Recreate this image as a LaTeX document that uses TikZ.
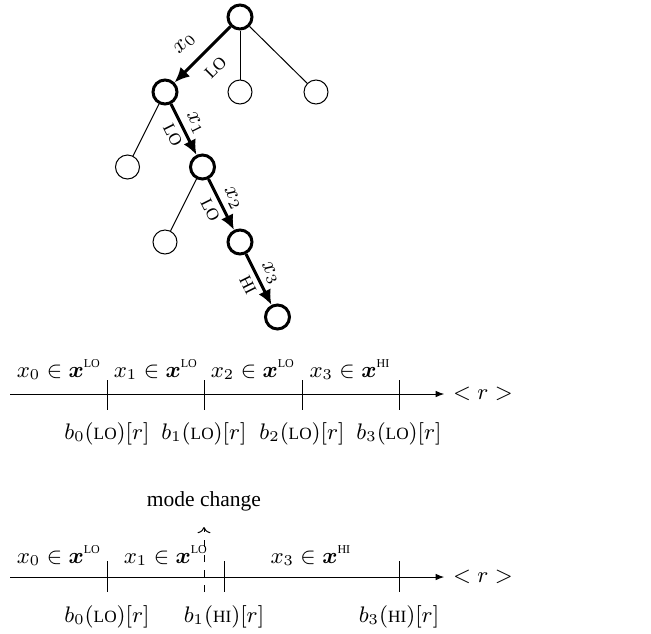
\documentclass[tikz,border=0pt]{standalone}
\usepackage[no-math]{fontspec}
\setmainfont{Liberation Serif}
\usepackage{amsmath,graphicx}
\usetikzlibrary{arrows.meta,positioning}
\newcommand{\lo}{\text{\scalebox{.8}{LO}}}
\newcommand{\hi}{\text{\scalebox{.8}{HI}}}
\newcommand{\bx}{\boldsymbol{x}}

\begin{document}
\begin{tikzpicture}[x=.4pt,y=.4pt,font=\fontsize{8.6}{10}\selectfont,node distance=30pt and 30pt,on grid,vtx/.style={circle,draw,thin,minimum size=9.6pt,inner sep=0pt},onpath/.style={vtx,very thick},hop/.style={-{Latex[length=6pt,width=5.4pt]},line width=1.2pt},lab/.style={sloped,inner sep=2pt},axis/.style={-{Latex[length=3.4pt,width=2.6pt]}},lbl/.style={anchor=base}]
 \useasboundingbox (0,0) rectangle (651,-633);
 % search tree
 \node[onpath] (root) at (240,-17) {};
 \node[onpath,below left=of root] (a) {};
 \node[vtx,below=of root] (b) {};
 \node[vtx,below right=30pt and 30.4pt of root] (c) {};
 \node[vtx,below left=30pt and 15pt of a] (d) {};
 \node[onpath,below right=30pt and 15pt of a] (e) {};
 \node[vtx,below left=30pt and 15pt of e] (f) {};
 \node[onpath,below right=30pt and 15pt of e] (g) {};
 \node[onpath,below right=30pt and 15pt of g] (h) {};
 \draw (root)--(b); \draw (root)--(c); \draw (a)--(d); \draw (e)--(f);
 \draw[hop] (root)--node[lab,above=3pt,pos=.56]{$x_0$} node[lab,below=2.5pt]{\lo} (a);
 \draw[hop] (a)--node[lab,above]{$x_1$} node[lab,below]{\lo} (e);
 \draw[hop] (e)--node[lab,above]{$x_2$} node[lab,below]{\lo} (g);
 \draw[hop] (g)--node[lab,above]{$x_3$} node[lab,below]{\hi} (h);
 % first timeline
 \coordinate (s1) at (10,-394); \node (r1) at (483,-394) {$<r>$};
 \draw[axis] (s1)--(r1);
 \draw (107,-380)--(107,-410); \draw (204,-380)--(204,-410); \draw (302,-380)--(302,-410); \draw (399,-380)--(399,-410);
 \node[lbl] (u0) at (59,-377) {$x_0\in\bx^{\lo}$}; \node[lbl] (u1) at (156,-377) {$x_1\in\bx^{\lo}$};
 \node[lbl] (u2) at (253,-377) {$x_2\in\bx^{\lo}$}; \node[lbl] (u3) at (350,-377) {$x_3\in\bx^{\hi}$};
 \node[lbl] (v0) at (107,-439) {$b_0(\lo)[r]$}; \node[lbl] (v1) at (204,-439) {$b_1(\lo)[r]$};
 \node[lbl] (v2) at (302,-439) {$b_2(\lo)[r]$}; \node[lbl] (v3) at (399,-439) {$b_3(\lo)[r]$};
 % second timeline, mode change
 \coordinate (s2) at (10,-577); \node (r2) at (483,-577) {$<r>$};
 \draw[axis] (s2)--(r2);
 \draw (107,-561)--(107,-592); \draw (224,-561)--(224,-592); \draw (399,-561)--(399,-592);
 \node[lbl] (w0) at (59,-563) {$x_0\in\bx^{\lo}$}; \node[lbl] (w1) at (166,-563) {$x_1\in\bx^{\lo}$};
 \node[lbl] (w3) at (311,-563) {$x_3\in\bx^{\hi}$};
 \node[lbl] (z0) at (107,-622) {$b_0(\lo)[r]$}; \node[lbl] (z1) at (224,-622) {$b_1(\hi)[r]$};
 \node[lbl] (z3) at (399,-622) {$b_3(\hi)[r]$};
 \coordinate (mc) at (204,-592);
 \node[anchor=south,inner xsep=0pt,inner ysep=6pt] (mode) at (204,-527) {mode change};
 \draw[dashed,->] (mc)--(mode);
\end{tikzpicture}
\end{document}
